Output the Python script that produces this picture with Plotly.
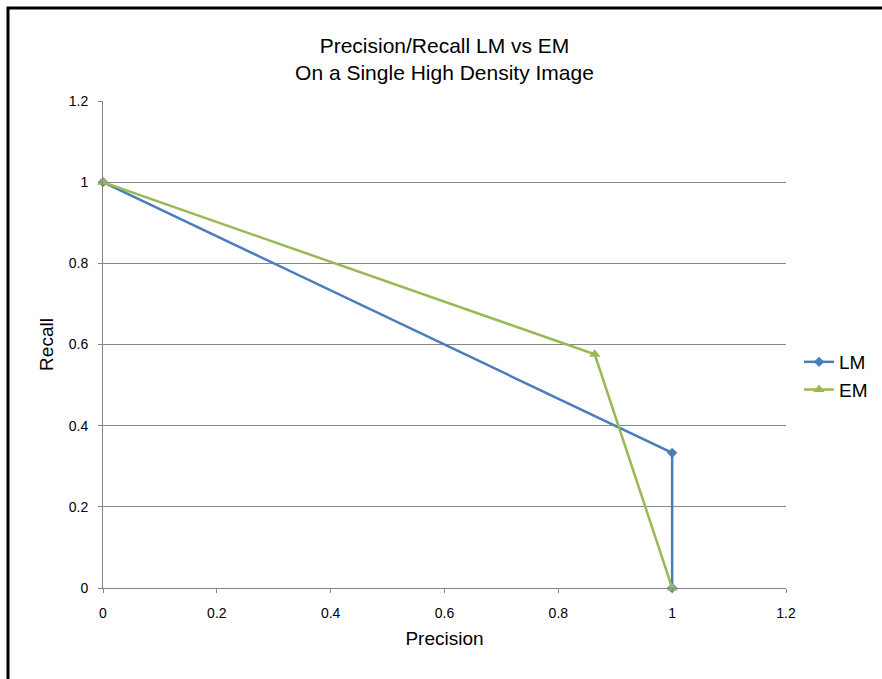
import plotly.graph_objects as go

# Precision/recall points for the two methods
lm_precision = [0, 1, 1]
lm_recall = [1, 0.333, 0]
em_precision = [0, 0.864, 1]
em_recall = [1, 0.576, 0]

x_ticks = [0, 0.2, 0.4, 0.6, 0.8, 1, 1.2]
y_ticks = [0, 0.2, 0.4, 0.6, 0.8, 1, 1.2]
x_tick_text = ["0", "0.2", "0.4", "0.6", "0.8", "1", "1.2"]
y_tick_text = ["0", "0.2", "0.4", "0.6", "0.8", "1", "1.2"]

W, H = 882, 679
ML, MR, MT, MB = 103, 96, 101, 91
FONT = "Liberation Sans, Arial, sans-serif"

fig = go.Figure()
fig.add_trace(go.Scatter(
    x=lm_precision, y=lm_recall, name="LM", mode="lines+markers",
    legendgroup="lm",
    line=dict(color="#4A7EBB", width=2.5),
    marker=dict(symbol="diamond", size=8, color="#4A7EBB"),
    cliponaxis=False,
))
fig.add_trace(go.Scatter(
    x=em_precision, y=em_recall, name="EM", mode="lines+markers",
    legendgroup="em",
    line=dict(color="#98B954", width=2.5),
    marker=dict(symbol="triangle-up", size=10, color="#98B954"),
    cliponaxis=False,
))

# outer chart frame (left and top edges visible)
pw, ph = W - ML - MR, H - MT - MB
fig.add_shape(
    type="rect", xref="paper", yref="paper",
    x0=(8 - ML) / pw, x1=(W + 20 - ML) / pw,
    y0=(H - MB - (H + 20)) / ph, y1=(H - MB - 8) / ph,
    line=dict(color="black", width=3), fillcolor="rgba(0,0,0,0)",
    layer="above",
)

fig.update_layout(
    width=W, height=H,
    margin=dict(l=ML, r=MR, t=MT, b=MB, autoexpand=False),
    paper_bgcolor="white", plot_bgcolor="white",
    font=dict(family=FONT, color="#000000"),
    title=dict(
        text="Precision/Recall LM vs EM<br>On a Single High Density Image",
        x=(ML + pw / 2) / W, xanchor="center", y=1 - 53 / H, yanchor="top",
        font=dict(size=21, family=FONT),
    ),
    showlegend=True,
    legend=dict(
        x=(799 - ML) / pw, xanchor="left", y=(H - MB - 376) / ph, yanchor="middle",
        font=dict(size=19, family=FONT),
        bgcolor="rgba(0,0,0,0)", itemwidth=30, tracegroupgap=0,
    ),
    xaxis=dict(
        range=[0, 1.2], tickvals=x_ticks, ticktext=x_tick_text,
        showgrid=False, zeroline=False,
        showline=True, linecolor="#868686", linewidth=1,
        ticks="outside", ticklen=4, tickcolor="#868686",
        ticklabelstandoff=8,
        tickfont=dict(size=14, family=FONT),
        title=dict(text="Precision", font=dict(size=19, family=FONT), standoff=11),
    ),
    yaxis=dict(
        range=[0, 1.2], tickvals=y_ticks, ticktext=y_tick_text,
        showgrid=True, gridcolor="#868686", gridwidth=1, zeroline=False,
        showline=True, linecolor="#868686", linewidth=1,
        ticks="outside", ticklen=4, tickcolor="#868686",
        ticklabelstandoff=7,
        tickfont=dict(size=14, family=FONT),
        title=dict(text="Recall", font=dict(size=19, family=FONT), standoff=10),
    ),
)

fig.write_html("out.html")
